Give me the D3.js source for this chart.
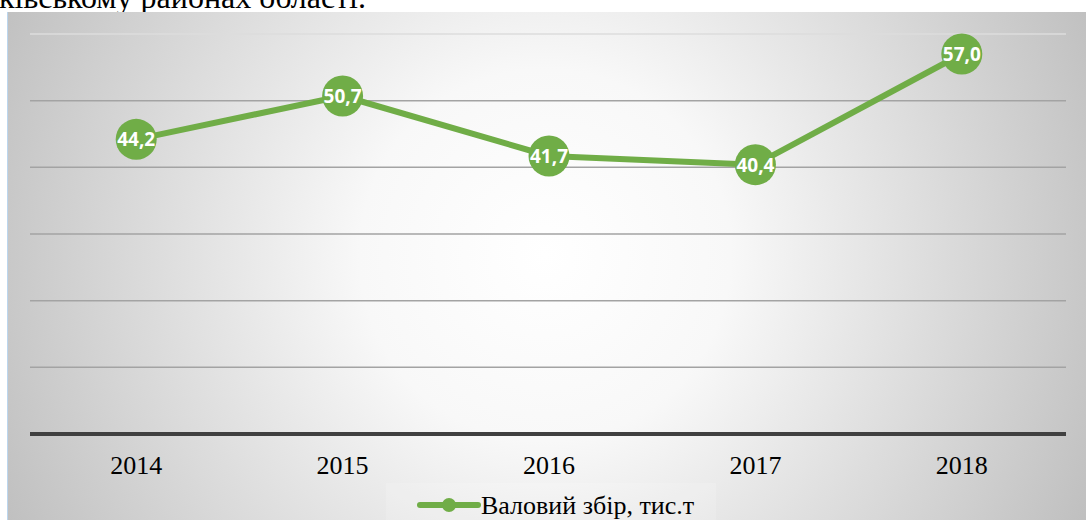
<!DOCTYPE html>
<html>
<head>
<meta charset="utf-8">
<script src="https://cdn.jsdelivr.net/npm/d3@7"></script>
<style>
  body { margin: 0; background: #fff; }
  svg { display: block; }
</style>
</head>
<body>
<svg id="chart"></svg>
<script>
const width = 1086;
const height = 520;

const years = ["2014", "2015", "2016", "2017", "2018"];
const harvest = [44.2, 50.7, 41.7, 40.4, 57.0];
const gridTicks = [0, 10, 20, 30, 40, 50, 60];
const seriesName = "Валовий збір, тис.т";

const green = "#70ad47";

const svg = d3.select("#chart").attr("width", width).attr("height", height);

const defs = svg.append("defs");
const grad = defs.append("radialGradient")
  .attr("id", "bg")
  .attr("gradientUnits", "userSpaceOnUse")
  .attr("cx", 545).attr("cy", 255).attr("r", 620);
grad.append("stop").attr("offset", "0").attr("stop-color", "#ffffff");
grad.append("stop").attr("offset", "0.3").attr("stop-color", "#f8f8f8");
grad.append("stop").attr("offset", "1").attr("stop-color", "#bdbdbd");

// caption text cut at top of the page
svg.append("text")
  .attr("x", 366).attr("y", 8)
  .attr("text-anchor", "end")
  .style("font-family", "'Liberation Serif', serif")
  .style("font-size", "32px")
  .attr("fill", "#000")
  .text("Чортківському районах області.");

// chart area
svg.append("rect")
  .attr("x", 8).attr("y", 12)
  .attr("width", width - 8).attr("height", height - 12)
  .attr("fill", "url(#bg)");
svg.append("line")
  .attr("x1", 7.5).attr("x2", 7.5).attr("y1", 12).attr("y2", height)
  .attr("stroke", "#bcd6ee").attr("stroke-width", 1);

const x = d3.scaleBand().domain(years).range([33, 1065]);
const y = d3.scaleLinear().domain([0, 60]).range([434, 34]);

// gridlines
svg.append("g")
  .selectAll("line")
  .data(gridTicks.filter(d => d > 0))
  .join("line")
  .attr("x1", 30).attr("x2", 1066)
  .attr("y1", d => y(d)).attr("y2", d => y(d))
  .attr("stroke", d => d === 60 ? "#dcdcdc" : "#a3a3a3")
  .attr("stroke-width", 1.5);

// baseline axis
const xAxis = svg.append("g")
  .attr("transform", `translate(0,${y(0)})`)
  .call(d3.axisBottom(x).tickSize(0).tickPadding(22));
xAxis.select(".domain")
  .attr("d", "M30,0H1066")
  .attr("stroke", "#404040")
  .attr("stroke-width", 4);
xAxis.selectAll("text")
  .style("font-family", "'Liberation Serif', serif")
  .style("font-size", "26px")
  .attr("fill", "#000");

// series line
const line = d3.line()
  .x((d, i) => x(years[i]) + x.bandwidth() / 2)
  .y(d => y(d));

svg.append("path")
  .datum(harvest)
  .attr("d", line)
  .attr("fill", "none")
  .attr("stroke", green)
  .attr("stroke-width", 6)
  .attr("stroke-linejoin", "round");

const pts = svg.append("g")
  .selectAll("g")
  .data(harvest)
  .join("g")
  .attr("transform", (d, i) => `translate(${x(years[i]) + x.bandwidth() / 2},${y(d)})`);

pts.append("circle")
  .attr("r", 20.5)
  .attr("fill", green);

pts.append("text")
  .attr("text-anchor", "middle")
  .attr("dy", "0.36em")
  .style("font-family", "'Open Sans', sans-serif")
  .style("font-weight", "bold")
  .style("font-size", "19px")
  .attr("fill", "#fff")
  .text(d => d3.format(".1f")(d).replace(".", ","));

// legend
const legend = svg.append("g");
legend.append("rect")
  .attr("x", 386).attr("y", 483)
  .attr("width", 330).attr("height", 37)
  .attr("fill", "#ffffff").attr("opacity", 0.15);
legend.append("line")
  .attr("x1", 420).attr("x2", 478)
  .attr("y1", 505).attr("y2", 505)
  .attr("stroke", green).attr("stroke-width", 6)
  .attr("stroke-linecap", "round");
legend.append("circle")
  .attr("cx", 449).attr("cy", 505).attr("r", 7)
  .attr("fill", green);
legend.append("text")
  .attr("x", 481).attr("y", 514)
  .style("font-family", "'Liberation Serif', serif")
  .style("font-size", "26px")
  .attr("fill", "#000")
  .text(seriesName);
</script>
</body>
</html>
